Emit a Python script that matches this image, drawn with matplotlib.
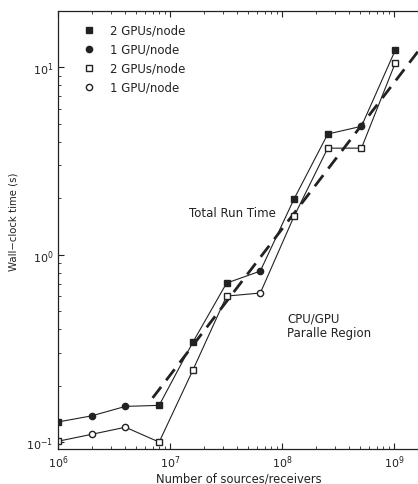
import matplotlib.pyplot as plt
import numpy as np

plt.rcParams['font.family'] = ['DejaVu Sans']

# Data
n_src = [1e6, 2e6, 4e6, 8e6, 1.6e7, 3.2e7, 6.4e7, 1.28e8, 2.56e8, 5.12e8, 1.024e9]
t_filled = [0.128, 0.138, 0.155, 0.157, 0.341, 0.705, 0.817, 1.98, 4.40, 4.84, 12.3]
t_open = [0.101, 0.110, 0.120, 0.100, 0.242, 0.601, 0.624, 1.60, 3.70, 3.70, 10.5]
# marker type per point: 's' = 2 GPUs/node, 'o' = 1 GPU/node
mk_filled = ['s', 'o', 'o', 's', 's', 's', 'o', 's', 's', 'o', 's']
mk_open = ['s', 'o', 'o', 's', 's', 's', 'o', 's', 's', 's', 's']
# total run time fit (dashed)
fit_x = [7.0e6, 1.7e9]
fit_y = [0.172, 12.5]

fig = plt.figure(figsize=(4.18, 4.85), dpi=100)
ax = fig.add_axes([58 / 418, 1 - 450 / 485, 362 / 418, 438 / 485])

c = '#222222'
ax.plot(n_src, t_filled, '-', color=c, lw=0.8)
ax.plot(n_src, t_open, '-', color=c, lw=0.8)
ax.plot(fit_x, fit_y, '--', color=c, lw=2.0, dashes=(5, 3))

for x, y, m in zip(n_src, t_filled, mk_filled):
    ax.plot(x, y, m, color=c, ms=4.5, mfc=c, mec=c)
for x, y, m in zip(n_src, t_open, mk_open):
    ax.plot(x, y, m, color=c, ms=4.5, mfc='white', mec=c, mew=1.0)

ax.set_xscale('log')
ax.set_yscale('log')
ax.set_xlim(1e6, 10 ** 9.232)
ax.set_ylim(10 ** -1.037, 10 ** 1.30)

ax.tick_params(which='both', direction='in', top=True, right=False, labelsize=8, colors=c)
ax.tick_params(which='major', length=4)
ax.tick_params(which='minor', length=2)
for s in ax.spines.values():
    s.set_color(c)
    s.set_linewidth(0.9)

ax.set_xlabel('Number of sources/receivers', fontsize=8.3, labelpad=1, color=c)
ax.set_ylabel('Wall\u2212clock time (s)', fontsize=7.3, labelpad=4, color=c)
ax.yaxis.set_label_coords(-0.11, 0.52)

# legend
labels = ['2 GPUs/node', '1 GPU/node', '2 GPUs/node', '1 GPU/node']
leg_m = ['s', 'o', 's', 'o']
leg_fc = [c, c, 'white', 'white']
for i, (lab, m, fc) in enumerate(zip(labels, leg_m, leg_fc)):
    yy = 0.957 - i * 0.0435
    ax.plot(0.085, yy, m, transform=ax.transAxes, ms=4.5, mfc=fc, mec=c, mew=1.0)
    ax.text(0.145, yy, lab, transform=ax.transAxes, fontsize=8.5, va='center', color=c)

ax.text(0.362, 0.541, 'Total Run Time', transform=ax.transAxes, fontsize=8.5,
        va='center', color=c)
ax.text(0.633, 0.283, 'CPU/GPU\nParalle Region', transform=ax.transAxes, fontsize=8.5,
        va='center', color=c, linespacing=1.15)

fig.savefig('out.png', dpi=100)
